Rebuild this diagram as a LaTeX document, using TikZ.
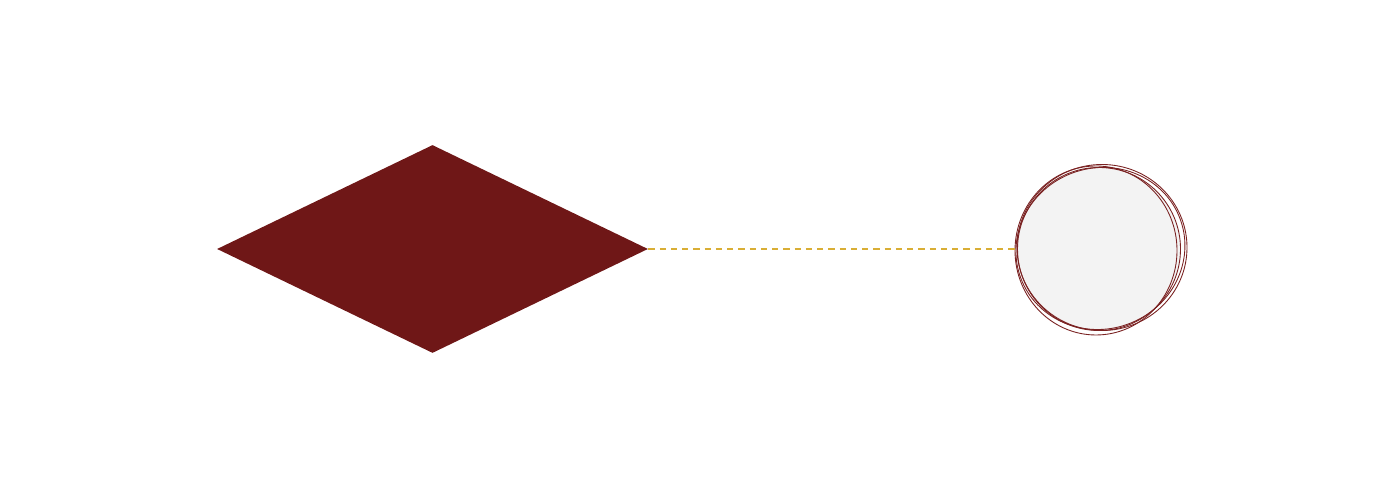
\documentclass[tikz,border=0pt]{standalone}
\usetikzlibrary{shapes.geometric}
\definecolor{wine}{HTML}{6F1717}
\definecolor{winestroke}{HTML}{7A2222}
\definecolor{gold}{HTML}{D9AE35}
\definecolor{paper}{HTML}{F3F3F3}
\tikzset{
  kite/.style={diamond, fill=wine, inner sep=0pt, minimum width=8.62cm, minimum height=4.16cm},
  ball/.style={circle, fill=paper, draw=winestroke, line width=0.5pt, inner sep=0pt, minimum size=3.26cm},
  sketch/.style={draw=winestroke, line width=0.5pt},
  link/.style={gold, line width=1.3pt, dash pattern=on 3.6pt off 2.8pt}
}
\begin{document}
\begin{tikzpicture}
\useasboundingbox (0,0) rectangle (28,10);

\node[kite] (dia) at (8.65,5.02) {};
\node[ball] (circ) at (21.98,5.02) {};

\draw[sketch] ([shift={(0.06,0.03)}]circ.center) ellipse [x radius=1.70cm, y radius=1.66cm];
\draw[sketch] ([shift={(-0.06,-0.03)}]circ.center) ellipse [x radius=1.62cm, y radius=1.69cm];
\draw[sketch, rotate around={20:(circ.center)}] ([shift={(0.03,0.0)}]circ.center) ellipse [x radius=1.70cm, y radius=1.61cm];

\draw[link] (dia.east) -- (circ.west);

\end{tikzpicture}
\end{document}
